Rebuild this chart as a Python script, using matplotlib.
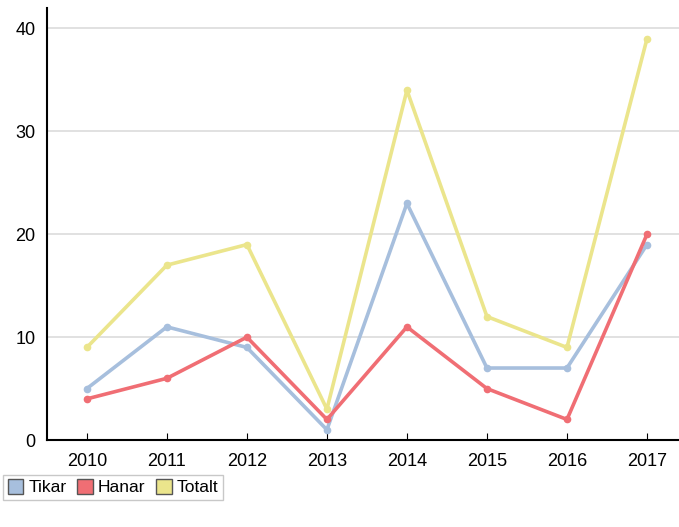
import numpy as np
import matplotlib.pyplot as plt
from matplotlib.patches import Patch

years = ["2010", "2011", "2012", "2013", "2014", "2015", "2016", "2017"]
tikar = [5, 11, 9, 1, 23, 7, 7, 19]
hanar = [4, 6, 10, 2, 11, 5, 2, 20]
totalt = [9, 17, 19, 3, 34, 12, 9, 39]

names = ["Tikar", "Hanar", "Totalt"]
colors = ["#a7bfdd", "#f06e74", "#ebe58c"]

plt.rcParams['font.family'] = ['Liberation Sans', 'DejaVu Sans']

fig = plt.figure(figsize=(6.79, 5.27), dpi=100)
ax = fig.add_axes([0.069, 0.165, 0.931, 0.82])

x = np.arange(len(years))
for vals, c in zip([tikar, hanar, totalt], colors):
    ax.plot(x, vals, color=c, lw=2.6, marker="o", ms=4.5, zorder=3)

ax.set_xlim(-0.5, 7.4)
ax.set_ylim(0, 42)
ax.set_xticks(x)
ax.set_xticklabels(years)
ax.set_yticks([0, 10, 20, 30, 40])
ax.tick_params(axis="x", direction="in", length=5, labelsize=13, pad=9)
ax.tick_params(axis="y", length=0, labelsize=13, pad=8)
ax.grid(axis="y", color="#dcdcdc", lw=1.2)
ax.set_axisbelow(True)
for s in ["top", "right"]:
    ax.spines[s].set_visible(False)
ax.spines["left"].set_linewidth(1.5)
ax.spines["bottom"].set_linewidth(1.5)

handles = [Patch(facecolor=c, edgecolor="#555555", lw=1) for c in colors]
fig.legend(handles, names, loc="lower left", bbox_to_anchor=(0.0, 0.045),
           ncol=3, frameon=True, fancybox=False, edgecolor="#bbbbbb",
           fontsize=12.5, handlelength=0.9, handleheight=0.9,
           handletextpad=0.3, columnspacing=0.6, borderpad=0.25,
           borderaxespad=0.2)

fig.savefig("out.png", dpi=100)
